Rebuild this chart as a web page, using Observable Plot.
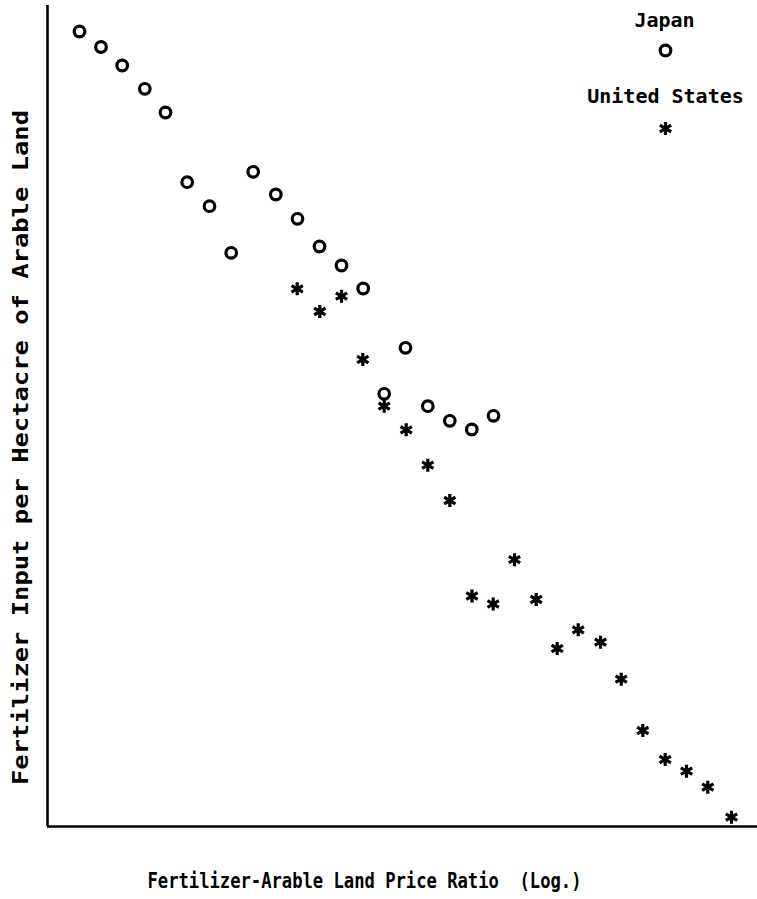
<!DOCTYPE html>
<html><head><meta charset="utf-8">
<script src="https://cdn.jsdelivr.net/npm/d3@7"></script>
<script src="https://cdn.jsdelivr.net/npm/@observablehq/plot@0.6"></script>
<style>body{margin:0;background:#fff}</style>
</head><body><div id="chart"></div>
<script>
// Values (arbitrary linear units, log price ratio vs input)
const japanX = [32, 53.5, 74.7, 97.3, 118, 139.7, 162, 183.7, 205.7, 228.3, 250, 272, 294, 315.7, 336.7, 358, 380.3, 402.3, 424.3, 446];
const japanY = [795, 779.5, 761, 737.7, 714, 644.3, 620.3, 573.7, 654.7, 632, 607.7, 580, 561, 538, 432.7, 478.7, 420.3, 405.7, 397, 410.7];
const usX = [249.7, 272.3, 294, 315.3, 336.7, 358.7, 380.3, 402.3, 424.5, 445.7, 467, 488.7, 509.7, 530.7, 553, 573.7, 595.3, 617.7, 639, 660.3, 684];
const usY = [537.7, 515, 530.3, 467, 420.3, 396.7, 361.3, 326, 230.5, 222.5, 266.8, 227, 178, 196.7, 184.3, 147.3, 96, 67, 55.3, 39.3, 9.3];
const seriesNames = ["Japan", "United States"];
const xLabel = "Fertilizer-Arable Land Price Ratio  (Log.)";
const yLabel = "Fertilizer Input per Hectacre of Arable Land";
const xDomain = [0, 710];
const yDomain = [0, 821];

const japan = japanX.map((x, i) => ({x, y: japanY[i]}));
const us = usX.map((x, i) => ({x, y: usY[i]}));
const font = "'DejaVu Sans Mono', 'Liberation Mono', monospace";

const chart = Plot.plot({
  width: 757,
  height: 899,
  marginLeft: 47,
  marginRight: 0,
  marginTop: 5,
  marginBottom: 73,
  x: {domain: xDomain, axis: null},
  y: {domain: yDomain, axis: null},
  style: {fontFamily: font, background: "#fff", color: "#000"},
  marks: [
    Plot.ruleX([xDomain[0]], {stroke: "#000", strokeWidth: 2.6}),
    Plot.ruleY([yDomain[0]], {stroke: "#000", strokeWidth: 2.6}),
    Plot.dot(japan, {x: "x", y: "y", r: 5.3, stroke: "#000", strokeWidth: 3.2, fill: "none"}),
    Plot.dot(us, {x: "x", y: "y", r: 6.2, symbol: "asterisk", stroke: "#000", strokeWidth: 3.2}),
    // legend
    Plot.text([seriesNames[0]], {frameAnchor: "top-right", dx: -93, dy: 21, lineAnchor: "bottom", textAnchor: "middle", fontSize: 20, fontWeight: "bold", fill: "#000"}),
    Plot.dot([seriesNames[0]], {frameAnchor: "top-right", dx: -92, dy: 45, r: 5.3, stroke: "#000", strokeWidth: 3.2, fill: "none"}),
    Plot.text([seriesNames[1]], {frameAnchor: "top-right", dx: -92, dy: 97, lineAnchor: "bottom", textAnchor: "middle", fontSize: 20, fontWeight: "bold", fill: "#000"}),
    Plot.dot([seriesNames[1]], {frameAnchor: "top-right", dx: -92, dy: 123, r: 6.2, symbol: "asterisk", stroke: "#000", strokeWidth: 3.2}),
    // axis titles
    Plot.text([xLabel], {frameAnchor: "bottom", dx: -38, dy: 61, lineAnchor: "bottom", textAnchor: "middle", fontSize: 22, fontWeight: "bold", fill: "#000"}),
    Plot.text([yLabel], {frameAnchor: "left", dx: -20, dy: 31.5, rotate: -90, lineAnchor: "bottom", textAnchor: "middle", fontSize: 21, fontWeight: "bold", fill: "#000"})
  ]
});

d3.select(chart).selectAll("text").each(function() {
  const t = this.textContent;
  if (t === xLabel) { this.setAttribute("textLength", 434); this.setAttribute("lengthAdjust", "spacingAndGlyphs"); this.style.whiteSpace = "pre"; }
  if (t === yLabel) { this.setAttribute("textLength", 675); this.setAttribute("lengthAdjust", "spacingAndGlyphs"); }
});

document.getElementById("chart").appendChild(chart);
</script>
</body></html>
